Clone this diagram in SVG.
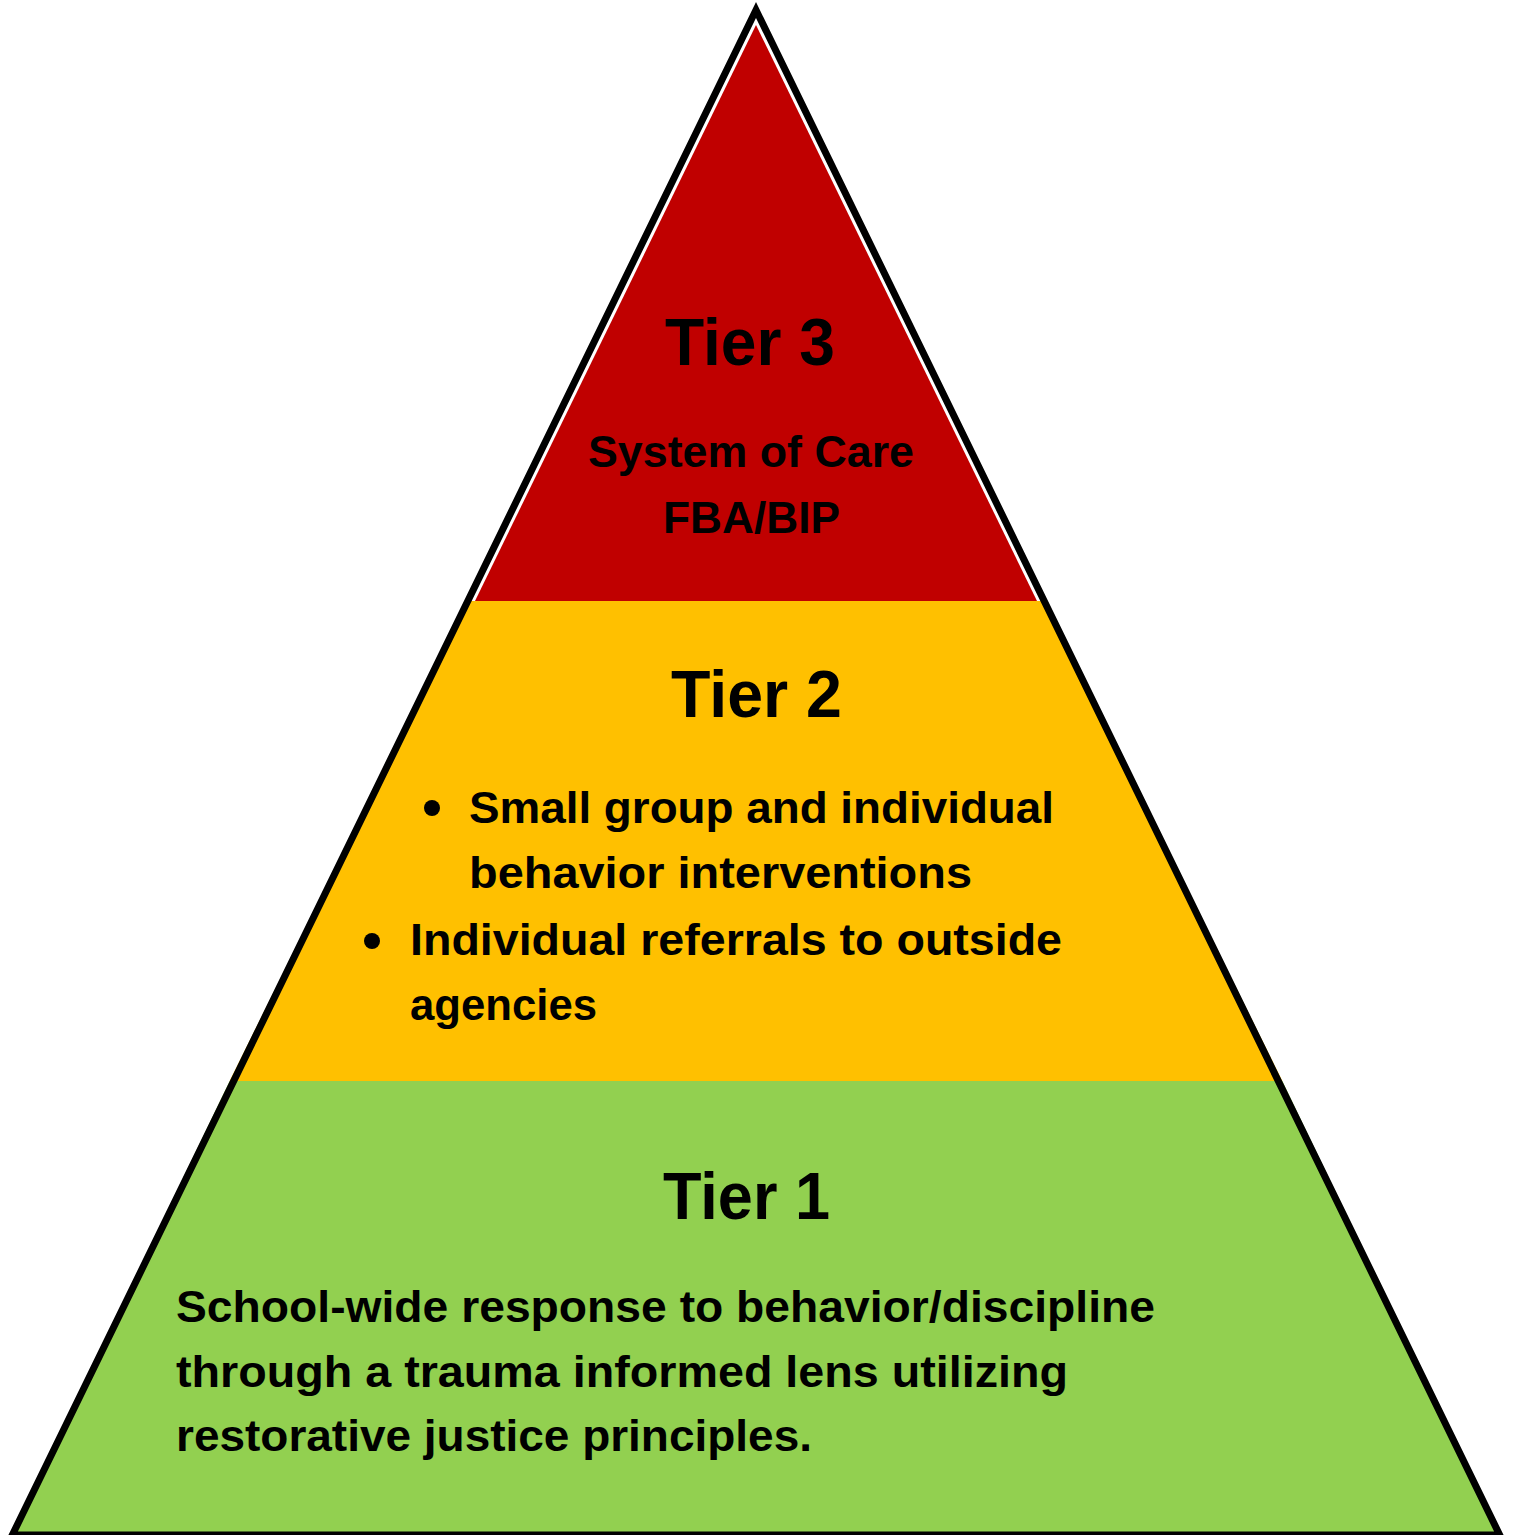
<svg xmlns="http://www.w3.org/2000/svg" width="1515" height="1535" viewBox="0 0 1515 1535">
<style>
text{font-family:"Liberation Sans",Arial,sans-serif;font-weight:bold;fill:#000;}
.h{font-size:66px;}
.b{font-size:45px;}
</style>
<rect width="1515" height="1535" fill="#fff"/>
<g id="tier1">
<polygon points="229.6,1081 1282.4,1081 1499.7,1535 12.3,1535" fill="#92D050"/>
<text class="h" x="663" y="1219" textLength="167" lengthAdjust="spacingAndGlyphs">Tier 1</text>
<text class="b" x="176" y="1322" textLength="979" lengthAdjust="spacingAndGlyphs">School-wide response to behavior/discipline</text>
<text class="b" x="176" y="1387" textLength="892" lengthAdjust="spacingAndGlyphs">through a trauma informed lens utilizing</text>
<text class="b" x="176" y="1451" textLength="636" lengthAdjust="spacingAndGlyphs">restorative justice principles.</text>
</g>
<g id="tier2">
<polygon points="467.8,601 1044.2,601 1282.4,1081 229.6,1081" fill="#FFC000"/>
<text class="h" x="671" y="717" textLength="171" lengthAdjust="spacingAndGlyphs">Tier 2</text>
<circle cx="432" cy="808" r="8" fill="#000"/>
<text class="b" x="469" y="823" textLength="585" lengthAdjust="spacingAndGlyphs">Small group and individual</text>
<text class="b" x="469" y="888" textLength="503" lengthAdjust="spacingAndGlyphs">behavior interventions</text>
<circle cx="372" cy="941" r="8" fill="#000"/>
<text class="b" x="410" y="955" textLength="652" lengthAdjust="spacingAndGlyphs">Individual referrals to outside</text>
<text class="b" x="410" y="1020" textLength="187" lengthAdjust="spacingAndGlyphs">agencies</text>
</g>
<g id="tier3">
<polygon points="756,25 475,601 1037,601" fill="#C00000"/>
<text class="h" x="665" y="365" textLength="170" lengthAdjust="spacingAndGlyphs">Tier 3</text>
<text class="b" x="588" y="467" textLength="326" lengthAdjust="spacingAndGlyphs">System of Care</text>
<text class="b" x="663" y="533" textLength="177" lengthAdjust="spacingAndGlyphs">FBA/BIP</text>
</g>
<g id="outline">
<polygon points="756,10 1499.7,1535 12.3,1535" fill="none" stroke="#000" stroke-width="7" stroke-linejoin="miter" stroke-miterlimit="10"/>
</g>
</svg>
